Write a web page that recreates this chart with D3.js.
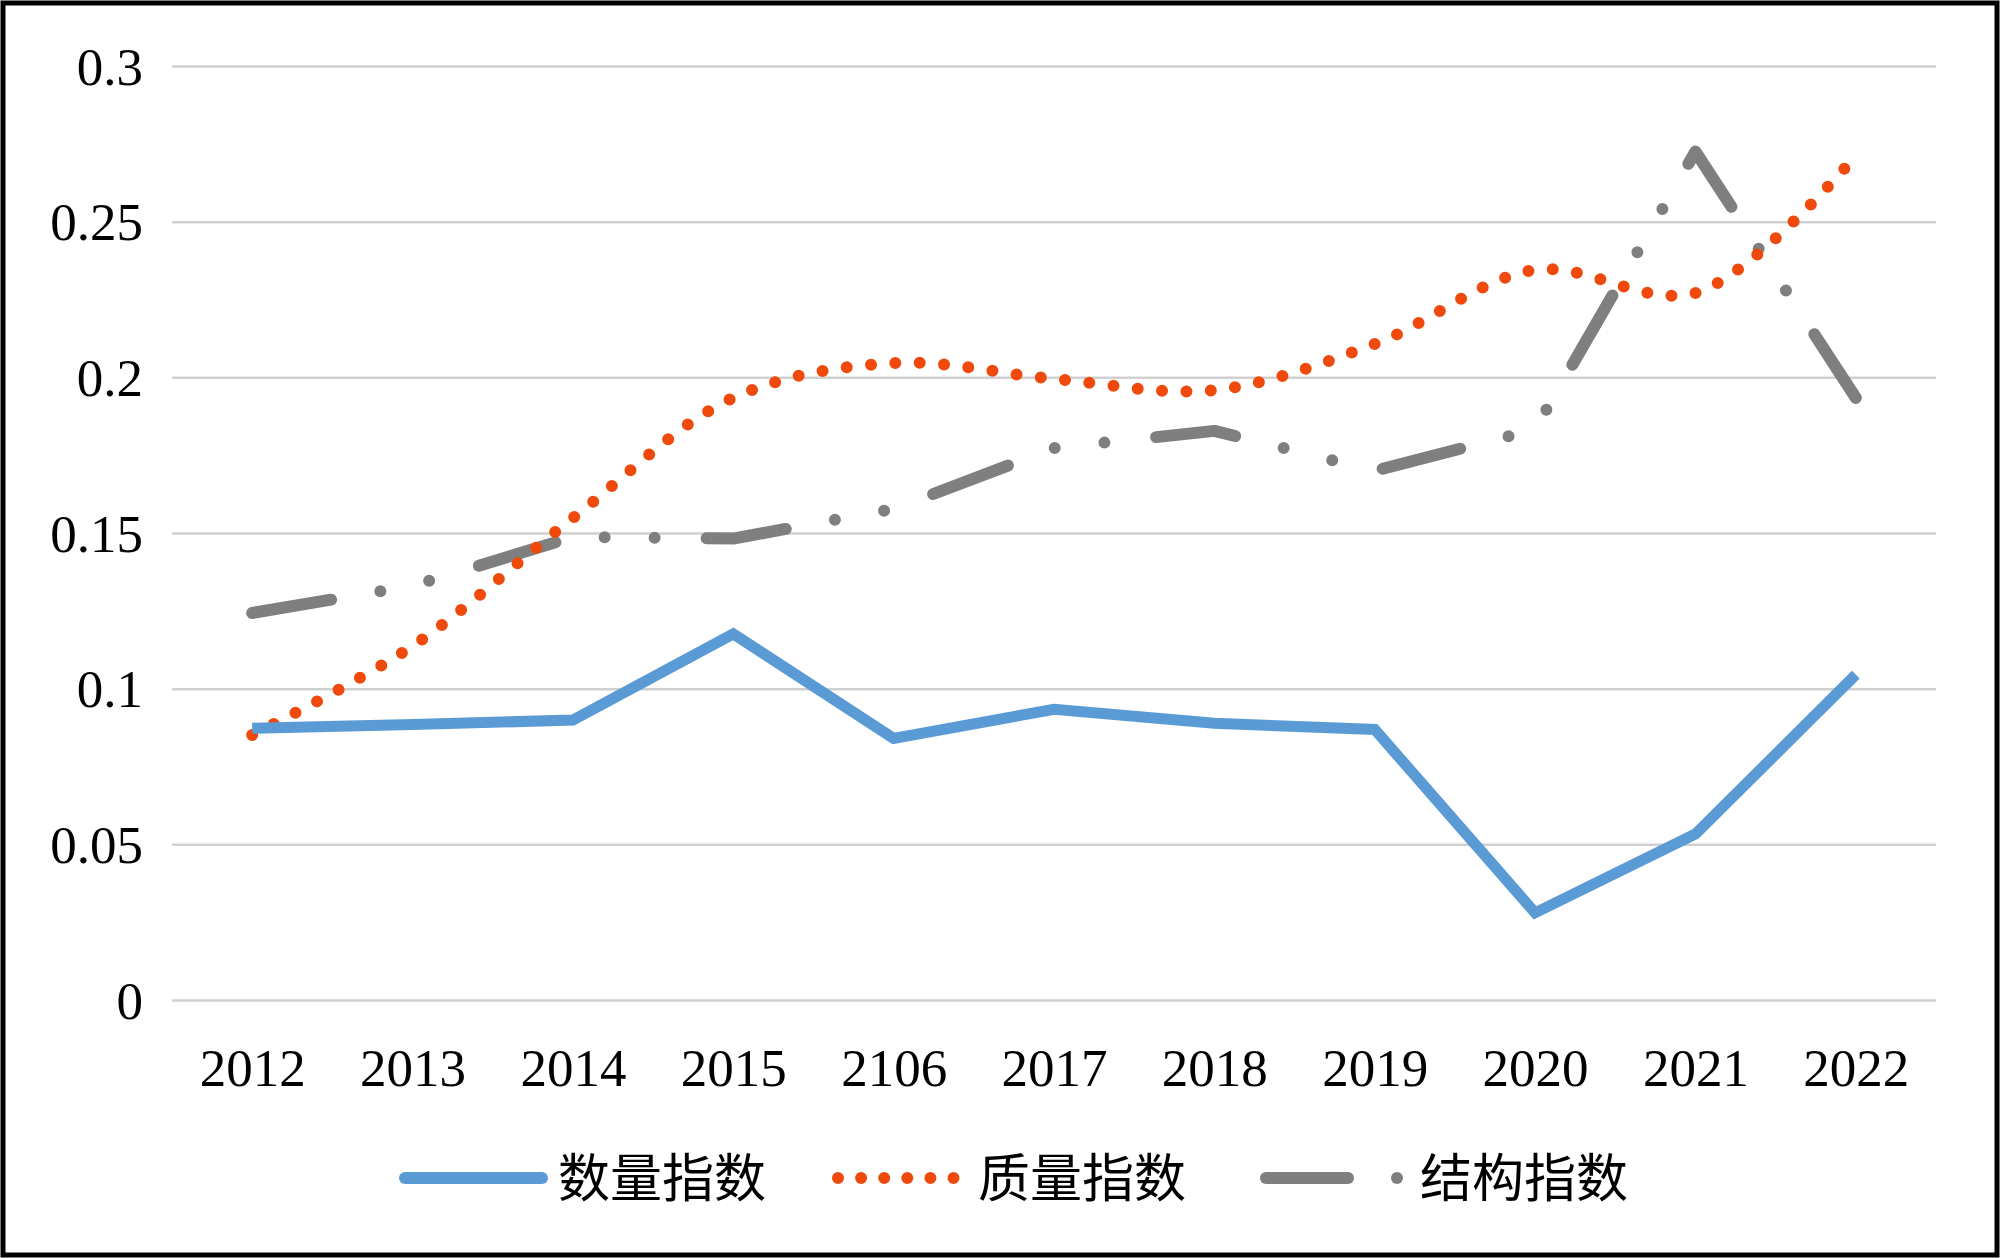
<!DOCTYPE html>
<html>
<head>
<meta charset="utf-8">
<script src="https://cdn.jsdelivr.net/npm/d3@7"></script>
<style>
html,body{margin:0;padding:0;background:#fff;}
svg{display:block;}
</style>
</head>
<body>
<svg id="chart" width="2000" height="1258"></svg>
<script>
const categories = ["2012","2013","2014","2015","2106","2017","2018","2019","2020","2021","2022"];
const quantityIndex = [0.0873, 0.0885, 0.0899, 0.1176, 0.0840, 0.0934, 0.0889, 0.0869, 0.0280, 0.0533, 0.1045];
const qualityIndex  = [0.0851, 0.1137, 0.1548, 0.1934, 0.2046, 0.1995, 0.1959, 0.2107, 0.2345, 0.2271, 0.2712];
const structureIndex= [0.1243, 0.1330, 0.1487, 0.1482, 0.1577, 0.1773, 0.1828, 0.1700, 0.1833, 0.2725, 0.1934];
const yTicks = [0, 0.05, 0.1, 0.15, 0.2, 0.25, 0.3];
const seriesNames = ["数量指数", "质量指数", "结构指数"];

const svg = d3.select("#chart");
const W = 2000, H = 1258;
const plot = {left: 172, right: 1936, top: 66, bottom: 1000};

svg.append("rect").attr("x",0).attr("y",0).attr("width",W).attr("height",H).attr("fill","#fff");
svg.append("rect").attr("x",3).attr("y",3).attr("width",W-6).attr("height",H-6)
  .attr("fill","none").attr("stroke","#000").attr("stroke-width",5);

const x = d3.scalePoint().domain(categories).range([plot.left, plot.right]).padding(0.5);
const y = d3.scaleLinear().domain([0, 0.3]).range([plot.bottom, plot.top]);

// grid lines + y labels
const yAxis = d3.axisLeft(y).tickValues(yTicks).tickSize(-(plot.right - plot.left))
  .tickFormat(d => String(+d.toFixed(2))).tickPadding(29);
const gy = svg.append("g").attr("transform", `translate(${plot.left},0)`).call(yAxis);
gy.select(".domain").remove();
gy.selectAll(".tick line").attr("stroke","#d0d0d0").attr("stroke-width",2.5);
gy.selectAll(".tick text").attr("font-family","'Liberation Serif','Times New Roman',serif")
  .attr("font-size",53).attr("fill","#000").attr("dy","0.34em");

// x labels
const xAxis = d3.axisBottom(x).tickSize(0).tickPadding(48);
const gx = svg.append("g").attr("transform", `translate(0,${plot.bottom})`).call(xAxis);
gx.select(".domain").remove();
gx.selectAll(".tick text").attr("font-family","'Liberation Serif','Times New Roman',serif")
  .attr("font-size",53).attr("fill","#000").attr("dy","0.71em");

const blue = "#5b9bd5", orange = "#ef4a0b", grey = "#7f7f7f";

const linearLine = d3.line().x((d,i)=>x(categories[i])).y(d=>y(d));
const smoothLine = d3.line().x((d,i)=>x(categories[i])).y(d=>y(d)).curve(d3.curveCatmullRom.alpha(0.5));

// structure (grey long dash dot dot)
svg.append("path").datum(structureIndex).attr("d", linearLine)
  .attr("fill","none").attr("stroke",grey).attr("stroke-width",12)
  .attr("stroke-linecap","round").attr("stroke-linejoin","round")
  .attr("stroke-dasharray","80,50,0,50,0,52");

// quality (orange round dots, smooth)
svg.append("path").datum(qualityIndex).attr("d", smoothLine)
  .attr("fill","none").attr("stroke",orange).attr("stroke-width",12)
  .attr("stroke-linecap","round").attr("stroke-dasharray","0,24.4");

// quantity (blue solid)
svg.append("path").datum(quantityIndex).attr("d", linearLine)
  .attr("fill","none").attr("stroke",blue).attr("stroke-width",11)
  .attr("stroke-linejoin","miter");

// legend
const ly = 1178;
const lg = svg.append("g");
const cjk = "'Noto Sans CJK SC','Noto Sans CJK JP',sans-serif";
lg.append("line").attr("x1",405).attr("x2",542).attr("y1",ly).attr("y2",ly)
  .attr("stroke",blue).attr("stroke-width",12).attr("stroke-linecap","round");
lg.append("text").attr("x",558).attr("y",ly+19).text(seriesNames[0])
  .attr("font-family",cjk).attr("font-size",52).attr("fill","#000");

lg.append("line").attr("x1",838).attr("x2",954).attr("y1",ly).attr("y2",ly)
  .attr("stroke",orange).attr("stroke-width",12).attr("stroke-linecap","round")
  .attr("stroke-dasharray","0,23.1");
lg.append("text").attr("x",978).attr("y",ly+19).text(seriesNames[1])
  .attr("font-family",cjk).attr("font-size",52).attr("fill","#000");

lg.append("line").attr("x1",1266).attr("x2",1348).attr("y1",ly).attr("y2",ly)
  .attr("stroke",grey).attr("stroke-width",12).attr("stroke-linecap","round");
lg.append("circle").attr("cx",1397).attr("cy",ly).attr("r",6).attr("fill",grey);
lg.append("text").attr("x",1420).attr("y",ly+19).text(seriesNames[2])
  .attr("font-family",cjk).attr("font-size",52).attr("fill","#000");
</script>
</body>
</html>
